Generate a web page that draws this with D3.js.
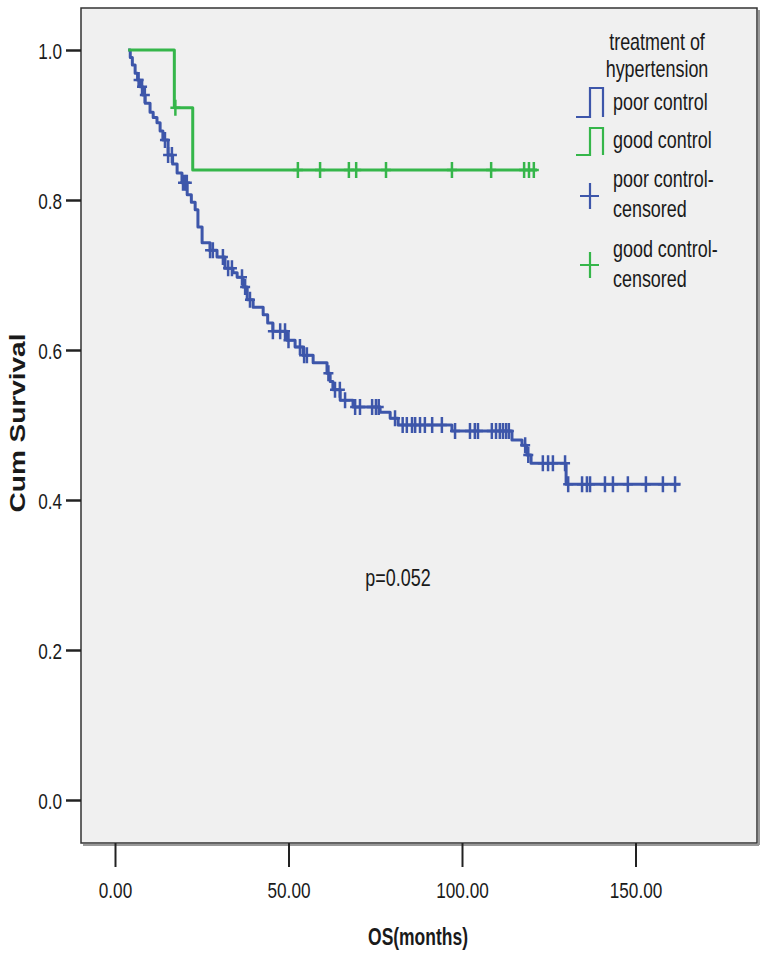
<!DOCTYPE html>
<html>
<head>
<meta charset="utf-8">
<script src="https://cdn.jsdelivr.net/npm/d3@7"></script>
<style>
  body { margin: 0; background: #fff; }
  svg { display: block; }
  text { font-family: "Liberation Sans", Arial, sans-serif; fill: #1a1a1a; }
</style>
</head>
<body>
<svg></svg>
<script>
// KM curve values
const startTime = 3.8

// poor control: event times and survival after each event
const poorTimes = [4.4, 5.0, 5.8, 6.5, 7.2, 8.0, 8.7, 10.1, 11.0, 12.1, 13.0, 13.8, 15.3, 16.6, 17.9, 19.3, 20.8, 22.0, 23.1, 23.9, 25.1, 27.4, 29.4,
  31.7, 34.0, 35.2, 36.9, 38.1, 39.8, 42.7, 44.0, 45.5, 49.6, 51.9, 54.2, 57.1, 61.1, 62.0, 62.8, 64.9, 68.6,
  76.4, 79.3, 81.6, 97.1, 114.4, 117.3, 118.7, 119.9, 130.0]
const poorSurv = [0.99, 0.98, 0.969, 0.96, 0.951, 0.94, 0.929, 0.917, 0.91, 0.903, 0.892, 0.880, 0.860, 0.848, 0.836, 0.823, 0.807, 0.797, 0.787, 0.764, 0.743, 0.733, 0.724,
  0.709, 0.703, 0.697, 0.684, 0.667, 0.657, 0.647, 0.636, 0.625, 0.613, 0.604, 0.593, 0.583, 0.569, 0.558, 0.547, 0.533, 0.524,
  0.517, 0.509, 0.500, 0.492, 0.480, 0.473, 0.460, 0.449, 0.421]
const poorCensor = [6.8, 7.8, 8.6, 14.4, 15.3, 16.4, 19.6, 20.2, 20.7, 27.4, 28.2, 31.1, 32.6, 33.7,
  36.6, 37.5, 38.9, 45.5, 47.6, 49.0, 50.0, 53.3, 54.5, 55.3, 61.5, 63.4, 64.8, 66.3, 69.2, 70.6,
  74.1, 75.2, 76.0, 80.7, 82.9, 84.1, 85.6, 86.5, 87.9, 89.3, 91.4, 94.2, 98.0, 102.3, 103.7, 104.6,
  108.6, 109.8, 110.9, 111.8, 112.7, 113.5, 118.2, 119.1, 123.3, 124.8, 126.2, 129.7,
  130.6, 134.6, 136.0, 136.9, 141.2, 143.5, 147.8, 153.0, 157.9, 161.4]
const poorEnd = 163.0

// good control
const goodTimes = [17.1, 22.4]
const goodSurv = [0.923, 0.84]
const goodCensor = [17.4, 52.7, 59.1, 67.4, 69.5, 78.1, 97.1, 108.4, 117.9, 119.3, 120.7]
const goodEnd = 121.6

const xTicks = [0, 50, 100, 150]
const yTicks = [0, 0.2, 0.4, 0.6, 0.8, 1.0]
const legendTitle = ["treatment of", "hypertension"]
const blue = "#3d56aa", green = "#35b64a"

const width = 766, height = 959
const box = { left: 81, right: 757, top: 8, bottom: 843 }
const squeeze = 0.78   // text in the picture is narrowed horizontally

const svg = d3.select("svg").attr("width", width).attr("height", height)

const x = d3.scaleLinear().domain([0, 150]).range([115, 635.5])
const y = d3.scaleLinear().domain([0, 1]).range([800, 50])

// plot box with a little shadow on right / bottom
svg.append("line").attr("x1", box.right + 2).attr("x2", box.right + 2)
  .attr("y1", box.top + 2).attr("y2", box.bottom + 2).style("stroke", "#999").style("stroke-width", 2)
svg.append("line").attr("x1", box.left + 2).attr("x2", box.right + 2)
  .attr("y1", box.bottom + 2).attr("y2", box.bottom + 2).style("stroke", "#999").style("stroke-width", 2)
svg.append("rect")
  .attr("x", box.left).attr("y", box.top)
  .attr("width", box.right - box.left).attr("height", box.bottom - box.top)
  .style("fill", "#f0f0f0").style("stroke", "#333").style("stroke-width", 1.5)

function narrow(sel, dx, dy) {
  sel.attr("x", 0).attr("y", 0).attr("dy", null)
    .attr("transform", "translate(" + dx + "," + dy + ") scale(" + squeeze + ",1)")
}

// y axis
const yAxis = svg.append("g").attr("transform", "translate(" + box.left + ",0)")
  .call(d3.axisLeft(y).tickValues(yTicks).tickSize(15).tickFormat(d3.format(".1f")))
yAxis.select(".domain").remove()
yAxis.selectAll("line").style("stroke", "#222").style("stroke-width", 2.5)
yAxis.selectAll("text").style("font-size", "22px").style("fill", "#1a1a1a")
  .attr("text-anchor", "end").call(narrow, -19, 8)

// x axis
const xAxis = svg.append("g").attr("transform", "translate(0," + box.bottom + ")")
  .call(d3.axisBottom(x).tickValues(xTicks).tickSize(24).tickFormat(d3.format(".2f")))
xAxis.select(".domain").remove()
xAxis.selectAll("line").style("stroke", "#222").style("stroke-width", 2)
xAxis.selectAll("text").style("font-size", "22px").style("fill", "#1a1a1a")
  .attr("text-anchor", "middle").call(narrow, 0, 55)

// axis titles
svg.append("text").text("OS(months)")
  .style("font-size", "23px").style("font-weight", "bold").attr("text-anchor", "middle")
  .attr("transform", "translate(418,945) scale(0.76,1)")
svg.append("text").text("Cum Survival")
  .style("font-size", "28px").style("font-weight", "bold").attr("text-anchor", "middle")
  .attr("transform", "translate(25,423) scale(0.82,1) rotate(-90)")

// survival curves
function stepPoints(times, surv, end) {
  const pts = [[startTime, 1]]
  times.forEach((t, i) => pts.push([t, surv[i]]))
  pts.push([end, surv[surv.length - 1]])
  return pts
}
function survAt(times, surv, t) {
  let s = 1
  times.forEach((tt, i) => { if (tt <= t) s = surv[i] })
  return s
}

const line = d3.line().x(d => x(d[0])).y(d => y(d[1])).curve(d3.curveStepAfter)

const groups = [
  { times: poorTimes, surv: poorSurv, censor: poorCensor, end: poorEnd, color: blue },
  { times: goodTimes, surv: goodSurv, censor: goodCensor, end: goodEnd, color: green }
]

groups.forEach(g => {
  svg.append("path").datum(stepPoints(g.times, g.surv, g.end))
    .attr("d", line)
    .style("fill", "none").style("stroke", g.color).style("stroke-width", 3)
    .style("stroke-linejoin", "round")

  svg.append("g").selectAll("path")
    .data(g.censor)
    .enter().append("path")
      .attr("d", d => {
        const cx = x(d), cy = y(survAt(g.times, g.surv, d))
        return "M" + cx + "," + (cy - 8) + "V" + (cy + 8) + "M" + (cx - 5) + "," + cy + "H" + (cx + 5)
      })
      .style("stroke", g.color).style("stroke-width", 2.5).style("fill", "none")
})

// p value
svg.append("text").text("p=0.052")
  .style("font-size", "23px").attr("text-anchor", "middle")
  .attr("transform", "translate(398,586) scale(" + squeeze + ",1)")

// legend
const lg = svg.append("g")
lg.selectAll("text.title")
  .data(legendTitle)
  .enter().append("text")
    .attr("class", "title")
    .text(d => d)
    .style("font-size", "23px").attr("text-anchor", "middle")
    .attr("transform", (d, i) => "translate(657," + (50 + i * 27) + ") scale(" + squeeze + ",1)")

const legendItems = [
  { lines: ["poor control"], base: 110, kind: "step", color: blue, top: 88, bottom: 117 },
  { lines: ["good control"], base: 148, kind: "step", color: green, top: 128, bottom: 155 },
  { lines: ["poor control-", "censored"], base: 187, kind: "plus", color: blue, cy: 196 },
  { lines: ["good control-", "censored"], base: 257, kind: "plus", color: green, cy: 265 }
]

legendItems.forEach(it => {
  it.lines.forEach((t, i) => {
    lg.append("text").text(t).style("font-size", "23px")
      .attr("transform", "translate(613," + (it.base + i * 30) + ") scale(" + squeeze + ",1)")
  })
  if (it.kind === "step") {
    lg.append("path")
      .attr("d", "M576," + it.bottom + "H590V" + it.top + "H603V" + it.bottom)
      .style("fill", "none").style("stroke", it.color).style("stroke-width", 2.2)
  } else {
    lg.append("path")
      .attr("d", "M590," + (it.cy - 13) + "V" + (it.cy + 13) + "M580," + it.cy + "H599")
      .style("fill", "none").style("stroke", it.color).style("stroke-width", 2.2)
  }
})
</script>
</body>
</html>
